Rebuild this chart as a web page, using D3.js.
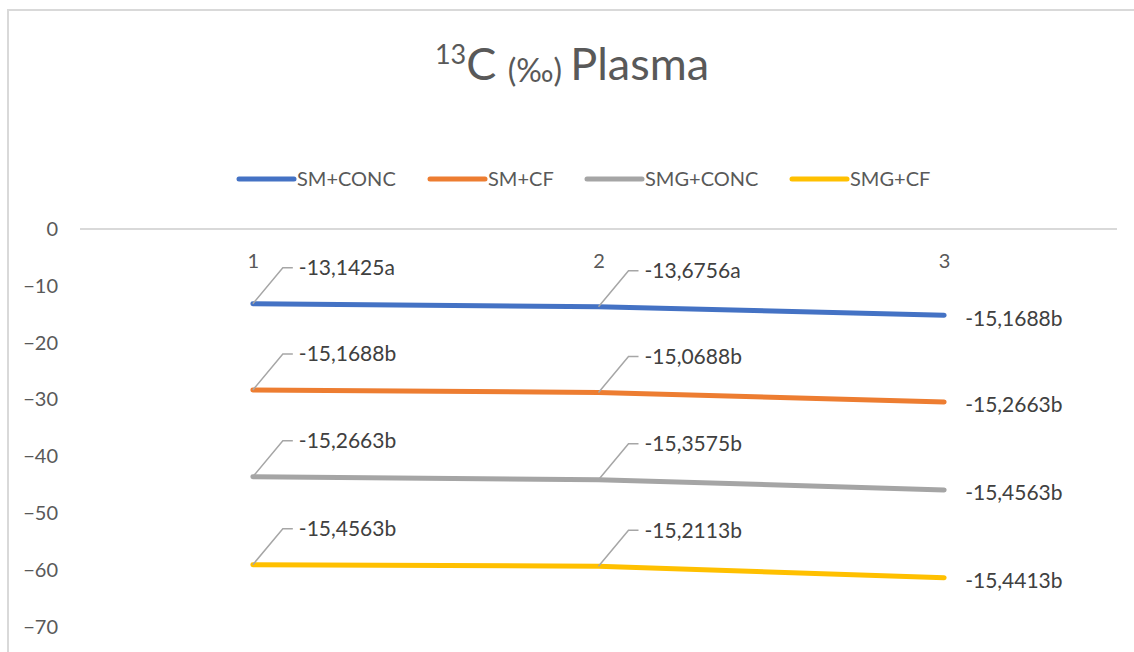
<!DOCTYPE html>
<html>
<head>
<meta charset="utf-8">
<script src="https://cdn.jsdelivr.net/npm/d3@7"></script>
<style>
  body { margin: 0; background: #fff; }
  svg { display: block; font-family: Lato, "Open Sans", sans-serif; }
</style>
</head>
<body>
<svg id="chart" width="1134" height="652"></svg>
<script>
// categories (x axis)
var categories = [1, 2, 3];

// series names
var seriesNames = ["SM+CONC", "SM+CF", "SMG+CONC", "SMG+CF"];

// series values (the chart stacks them)
var smConc  = [-13.1425, -13.6756, -15.1688];
var smCf    = [-15.1688, -15.0688, -15.2663];
var smgConc = [-15.2663, -15.3575, -15.4563];
var smgCf   = [-15.4563, -15.2113, -15.4413];

// letters shown after each value in the labels
var smConcLetters  = ["a", "a", "b"];
var smCfLetters    = ["b", "b", "b"];
var smgConcLetters = ["b", "b", "b"];
var smgCfLetters   = ["b", "b", "b"];

// y axis ticks
var yTicks = [0, -10, -20, -30, -40, -50, -60, -70];

var colors = ["#4472C4", "#ED7D31", "#A5A5A5", "#FFC000"];

var allValues = [smConc, smCf, smgConc, smgCf];
var allLetters = [smConcLetters, smCfLetters, smgConcLetters, smgCfLetters];

window.onload = function() {
  makeChart();
};

function makeChart() {
  var svg = d3.select("#chart");

  // chart border
  svg.append("rect")
    .attr("x", 8).attr("y", 10)
    .attr("width", 1140).attr("height", 660)
    .attr("fill", "none")
    .attr("stroke", "#d9d9d9")
    .attr("stroke-width", 2);

  // title
  var title = svg.append("text")
    .attr("x", 572).attr("y", 80)
    .attr("text-anchor", "middle")
    .attr("fill", "#595959");
  title.append("tspan").attr("font-size", 27).attr("dy", -16).text("13");
  title.append("tspan").attr("font-size", 45).attr("dy", 16).text("C ");
  title.append("tspan").attr("font-size", 32).attr("dy", 2).text("(‰) ");
  title.append("tspan").attr("font-size", 45).attr("dy", -2).text("Plasma");

  // scales
  var x = d3.scalePoint()
    .domain(categories)
    .range([80, 1117])
    .padding(0.5);

  var y = d3.scaleLinear()
    .domain([-70, 0])
    .range([627, 229]);

  // table for the stack
  var table = categories.map(function(c, i) {
    var row = { cat: c };
    seriesNames.forEach(function(n, k) { row[n] = allValues[k][i]; });
    return row;
  });

  var stacked = d3.stack()
    .keys(seriesNames)
    .offset(d3.stackOffsetDiverging)(table);

  // y axis
  var yAxis = svg.append("g")
    .attr("transform", "translate(80,0)")
    .call(d3.axisLeft(y).tickValues(yTicks).tickSize(0).tickPadding(22));
  yAxis.select(".domain").remove();
  yAxis.selectAll("text")
    .attr("font-family", "Lato, sans-serif")
    .attr("font-size", 20)
    .attr("fill", "#595959");

  // zero line
  svg.append("line")
    .attr("x1", 80).attr("x2", 1117)
    .attr("y1", y(0)).attr("y2", y(0))
    .attr("stroke", "#d9d9d9")
    .attr("stroke-width", 2);

  // category axis (labels below the zero line)
  var xAxis = svg.append("g")
    .attr("transform", "translate(0," + y(0) + ")")
    .call(d3.axisBottom(x).tickSize(0).tickPadding(25));
  xAxis.select(".domain").remove();
  xAxis.selectAll("text")
    .attr("font-family", "Lato, sans-serif")
    .attr("font-size", 20)
    .attr("fill", "#595959");

  var line = d3.line()
    .x(function(d) { return x(d.data.cat); })
    .y(function(d) { return y(d[0]); });

  svg.selectAll(".series")
    .data(stacked)
    .enter().append("path")
    .attr("class", "series")
    .attr("d", line)
    .attr("fill", "none")
    .attr("stroke", function(d, i) { return colors[i]; })
    .attr("stroke-width", 5)
    .attr("stroke-linecap", "round")
    .attr("stroke-linejoin", "round");

  // data labels
  var fmt = d3.formatLocale({ decimal: ",", thousands: ".", grouping: [3], currency: ["", ""], minus: "-" }).format(".4f");

  stacked.forEach(function(s, k) {
    s.forEach(function(d, i) {
      var px = x(d.data.cat), py = y(d[0]);
      var label = fmt(allValues[k][i]) + allLetters[k][i];
      if (i < 2) {
        var tx = px + 30, ty = py - 36;
        svg.append("polyline")
          .attr("points", [[px, py], [tx, ty], [tx + 10, ty]].join(" "))
          .attr("fill", "none")
          .attr("stroke", "#a6a6a6")
          .attr("stroke-width", 1.5);
        svg.append("text")
          .attr("x", tx + 16).attr("y", ty)
          .attr("dy", "0.35em")
          .attr("font-size", 21)
          .attr("fill", "#404040")
          .text(label);
      } else {
        svg.append("text")
          .attr("x", px + 21).attr("y", py + 3)
          .attr("dy", "0.35em")
          .attr("font-size", 21)
          .attr("fill", "#404040")
          .text(label);
      }
    });
  });

  // legend
  var legendX = [239, 430, 587, 792];
  var legend = svg.selectAll(".legend")
    .data(seriesNames)
    .enter().append("g")
    .attr("class", "legend")
    .attr("transform", function(d, i) { return "translate(" + legendX[i] + ",179)"; });

  legend.append("line")
    .attr("x1", 0).attr("x2", 55)
    .attr("stroke", function(d, i) { return colors[i]; })
    .attr("stroke-width", 5)
    .attr("stroke-linecap", "round");

  legend.append("text")
    .attr("x", 58)
    .attr("dy", "0.35em")
    .attr("font-size", 20)
    .attr("fill", "#595959")
    .text(function(d) { return d; });
}
</script>
</body>
</html>
